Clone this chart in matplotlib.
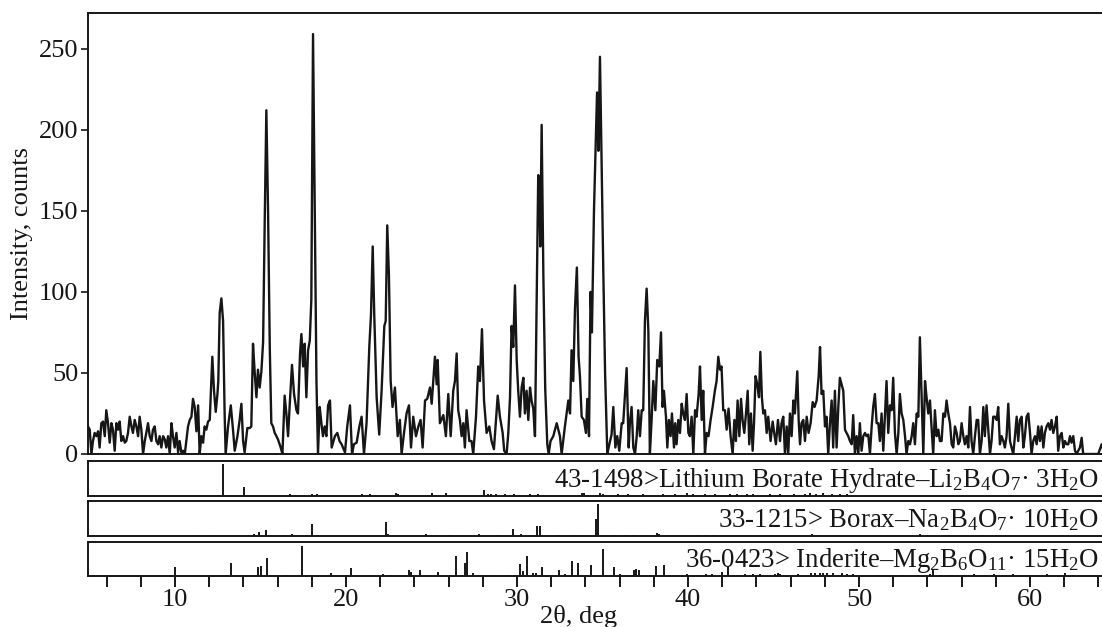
import matplotlib.pyplot as plt
from matplotlib.ticker import MultipleLocator, FixedLocator, NullFormatter

plt.rcParams["font.family"] = "Liberation Serif"
plt.rcParams["mathtext.fontset"] = "custom"
plt.rcParams["mathtext.rm"] = "Liberation Serif"
plt.rcParams["mathtext.it"] = "Liberation Serif:italic"

# measured pattern, 2theta (deg) and counts
two_theta = [
    4.91, 5.01, 5.11, 5.20, 5.30, 5.40, 5.50, 5.59, 5.69, 5.79,
    5.89, 5.98, 6.08, 6.18, 6.28, 6.37, 6.47, 6.57, 6.67, 6.76,
    6.86, 6.96, 7.06, 7.15, 7.25, 7.35, 7.45, 7.54, 7.64, 7.74,
    7.84, 7.93, 8.03, 8.13, 8.23, 8.32, 8.42, 8.52, 8.62, 8.71,
    8.81, 8.91, 9.01, 9.10, 9.20, 9.30, 9.40, 9.49, 9.59, 9.69,
    9.79, 9.88, 9.98, 10.08, 10.18, 10.27, 10.37, 10.47, 10.57, 10.66,
    10.76, 10.86, 10.96, 11.05, 11.15, 11.25, 11.35, 11.44, 11.54, 11.64,
    11.73, 11.83, 11.93, 12.03, 12.12, 12.18, 12.28, 12.38, 12.48, 12.53,
    12.61, 12.71, 12.81, 12.90, 12.96, 13.10, 13.26, 13.39, 13.49, 13.65,
    13.78, 13.88, 13.98, 14.07, 14.23, 14.37, 14.46, 14.56, 14.66, 14.76,
    14.85, 14.95, 15.05, 15.15, 15.24, 15.34, 15.44, 15.54, 15.63, 15.73,
    15.83, 15.93, 16.02, 16.18, 16.28, 16.41, 16.51, 16.61, 16.71, 16.84,
    16.96, 17.10, 17.19, 17.31, 17.39, 17.49, 17.58, 17.68, 17.78, 17.88,
    17.97, 18.07, 18.17, 18.27, 18.36, 18.46, 18.56, 18.65, 18.75, 18.85,
    18.95, 19.06, 19.16, 19.35, 19.49, 19.62, 19.74, 19.94, 20.07, 20.23,
    20.35, 20.46, 20.62, 20.78, 20.91, 21.05, 21.20, 21.36, 21.46, 21.56,
    21.65, 21.79, 21.94, 22.08, 22.24, 22.32, 22.41, 22.51, 22.61, 22.72,
    22.86, 23.02, 23.15, 23.25, 23.39, 23.54, 23.68, 23.80, 23.93, 24.09,
    24.23, 24.36, 24.48, 24.62, 24.75, 24.91, 25.01, 25.20, 25.30, 25.36,
    25.49, 25.69, 25.84, 25.98, 26.12, 26.27, 26.37, 26.47, 26.56, 26.66,
    26.76, 26.86, 26.95, 27.05, 27.21, 27.34, 27.44, 27.60, 27.73, 27.83,
    27.95, 28.07, 28.22, 28.38, 28.51, 28.65, 28.77, 28.87, 29.00, 29.16,
    29.25, 29.39, 29.49, 29.59, 29.68, 29.78, 29.88, 29.98, 30.07, 30.17,
    30.27, 30.37, 30.46, 30.56, 30.66, 30.76, 30.85, 30.95, 31.05, 31.15,
    31.24, 31.30, 31.36, 31.44, 31.54, 31.65, 31.77, 31.85, 31.96, 32.12,
    32.32, 32.51, 32.61, 32.80, 33.00, 33.10, 33.19, 33.29, 33.39, 33.50,
    33.60, 33.68, 33.78, 33.91, 34.03, 34.11, 34.21, 34.30, 34.38, 34.50,
    34.60, 34.68, 34.76, 34.85, 34.93, 35.05, 35.15, 35.28, 35.40, 35.53,
    35.63, 35.75, 35.86, 35.98, 36.12, 36.21, 36.41, 36.53, 36.60, 36.70,
    36.80, 36.90, 37.00, 37.09, 37.19, 37.29, 37.38, 37.48, 37.58, 37.68,
    37.77, 37.87, 37.97, 38.09, 38.20, 38.32, 38.42, 38.51, 38.59, 38.71,
    38.79, 38.88, 38.98, 39.06, 39.18, 39.25, 39.33, 39.43, 39.53, 39.63,
    39.72, 39.82, 39.92, 40.02, 40.11, 40.21, 40.31, 40.41, 40.50, 40.62,
    40.70, 40.80, 40.89, 40.99, 41.09, 41.20, 41.32, 41.44, 41.57, 41.67,
    41.77, 41.87, 41.96, 42.06, 42.16, 42.26, 42.37, 42.49, 42.61, 42.71,
    42.80, 42.90, 43.00, 43.10, 43.19, 43.29, 43.39, 43.49, 43.58, 43.68,
    43.78, 43.86, 43.95, 44.05, 44.15, 44.23, 44.32, 44.40, 44.50, 44.60,
    44.69, 44.83, 44.95, 45.04, 45.14, 45.26, 45.38, 45.47, 45.57, 45.67,
    45.77, 45.86, 45.96, 46.06, 46.16, 46.25, 46.39, 46.47, 46.55, 46.64,
    46.74, 46.84, 46.94, 47.05, 47.17, 47.29, 47.40, 47.52, 47.64, 47.72,
    47.81, 47.91, 48.01, 48.10, 48.20, 48.30, 48.40, 48.49, 48.59, 48.69,
    48.79, 48.88, 48.98, 49.08, 49.18, 49.27, 49.37, 49.47, 49.57, 49.66,
    49.76, 49.86, 49.96, 50.05, 50.15, 50.25, 50.35, 50.44, 50.54, 50.64,
    50.74, 50.83, 50.93, 51.03, 51.13, 51.22, 51.32, 51.42, 51.52, 51.61,
    51.71, 51.81, 51.91, 52.00, 52.10, 52.20, 52.30, 52.39, 52.49, 52.59,
    52.69, 52.78, 52.88, 52.98, 53.08, 53.17, 53.27, 53.37, 53.47, 53.56,
    53.66, 53.76, 53.86, 53.95, 54.05, 54.15, 54.25, 54.34, 54.44, 54.54,
    54.64, 54.73, 54.83, 54.93, 55.03, 55.12, 55.22, 55.32, 55.42, 55.51,
    55.61, 55.71, 55.81, 55.90, 56.00, 56.10, 56.19, 56.29, 56.39, 56.49,
    56.58, 56.68, 56.78, 56.88, 56.97, 57.07, 57.17, 57.27, 57.36, 57.46,
    57.56, 57.66, 57.75, 57.85, 57.95, 58.05, 58.14, 58.24, 58.34, 58.44,
    58.53, 58.63, 58.73, 58.83, 58.92, 59.02, 59.12, 59.22, 59.31, 59.41,
    59.51, 59.61, 59.70, 59.80, 59.90, 60.00, 60.09, 60.19, 60.29, 60.39,
    60.48, 60.58, 60.68, 60.78, 60.87, 60.97, 61.07, 61.17, 61.26, 61.36,
    61.46, 61.56, 61.65, 61.75, 61.85, 61.95, 62.04, 62.14, 62.24, 62.34,
    62.43, 62.53, 62.63, 62.73, 62.82, 62.92, 63.02, 63.11, 63.70, 63.99,
    64.09, 64.19, 64.30,
]
intensity = [
    17, 15, 0, 8, 13, 11, 14, 4, 19, 20,
    11, 27, 19, 7, 19, 15, 2, 19, 15, 20,
    8, 11, 7, 8, 13, 23, 17, 13, 21, 17,
    11, 23, 15, 0, 8, 13, 19, 11, 8, 15,
    17, 8, 6, 11, 4, 11, 9, 4, 11, 0,
    19, 11, 4, 13, 1, 8, 1, 2, 0, 8,
    17, 21, 23, 34, 29, 14, 30, 0, 11, 7,
    17, 15, 20, 21, 45, 60, 39, 26, 37, 45,
    87, 96, 82, 25, 0, 17, 30, 15, 2, 11,
    21, 31, 8, 1, 16, 16, 17, 68, 50, 35,
    52, 41, 51, 69, 140, 212, 150, 66, 19, 17,
    13, 11, 9, 4, 0, 36, 25, 11, 31, 55,
    37, 27, 25, 62, 74, 54, 68, 35, 64, 70,
    95, 259, 150, 45, 0, 29, 19, 11, 17, 11,
    30, 33, 4, 11, 13, 8, 6, 1, 17, 30,
    0, 6, 7, 17, 23, 0, 19, 66, 86, 128,
    86, 35, 12, 39, 79, 82, 141, 110, 45, 29,
    41, 11, 21, 0, 13, 25, 30, 4, 23, 11,
    17, 21, 4, 33, 34, 41, 31, 60, 43, 58,
    19, 24, 11, 37, 11, 39, 45, 62, 27, 21,
    11, 19, 4, 27, 8, 8, 0, 23, 54, 45,
    77, 33, 13, 17, 8, 3, 21, 36, 23, 13,
    2, 0, 13, 35, 79, 66, 104, 58, 39, 23,
    41, 47, 25, 39, 21, 41, 33, 28, 11, 95,
    172, 170, 128, 203, 110, 40, 6, 0, 8, 11,
    19, 11, 0, 17, 33, 25, 64, 45, 90, 115,
    60, 48, 23, 21, 13, 34, 11, 100, 75, 150,
    190, 223, 187, 245, 190, 110, 50, 0, 6, 12,
    29, 4, 11, 2, 19, 19, 53, 4, 19, 29,
    4, 0, 11, 27, 11, 27, 27, 82, 102, 76,
    0, 21, 45, 27, 58, 54, 75, 29, 39, 23,
    4, 21, 11, 25, 4, 19, 6, 21, 13, 31,
    25, 21, 37, 13, 11, 23, 0, 27, 23, 37,
    54, 21, 39, 0, 13, 11, 21, 29, 39, 45,
    60, 52, 54, 27, 27, 15, 28, 11, 0, 21,
    8, 33, 11, 34, 21, 13, 25, 39, 6, 25,
    2, 19, 48, 43, 35, 63, 35, 25, 27, 13,
    23, 8, 20, 13, 6, 21, 8, 19, 23, 0,
    17, 0, 25, 11, 33, 25, 51, 21, 6, 19,
    21, 8, 23, 13, 19, 32, 29, 33, 48, 66,
    37, 39, 17, 23, 0, 19, 33, 4, 39, 4,
    29, 47, 43, 39, 15, 13, 11, 8, 6, 24,
    0, 11, 0, 19, 2, 11, 13, 11, 12, 0,
    17, 29, 37, 19, 19, 8, 25, 2, 25, 45,
    13, 30, 27, 47, 13, 0, 13, 37, 25, 21,
    11, 0, 8, 6, 11, 19, 6, 25, 23, 72,
    35, 0, 45, 35, 25, 33, 15, 0, 27, 11,
    15, 8, 8, 25, 23, 33, 25, 19, 6, 4,
    17, 13, 6, 8, 19, 11, 6, 11, 4, 29,
    8, 0, 11, 21, 21, 0, 8, 29, 11, 30,
    15, 0, 8, 23, 23, 21, 29, 6, 11, 8,
    4, 11, 31, 8, 4, 0, 11, 23, 8, 21,
    23, 4, 11, 23, 25, 13, 0, 8, 11, 6,
    17, 8, 17, 4, 13, 17, 19, 15, 21, 13,
    17, 23, 2, 11, 13, 4, 8, 6, 6, 11,
    7, 11, 2, 0, 2, 4, 10, 0, 0, 0,
    3, 6, 2,
]

# reference card lines: position (deg) and relative height
li_pos = [12.81, 14.03, 16.71, 18.01, 18.32, 20.96, 21.38, 22.94, 23.04, 25.03,
          25.87, 28.07, 28.30, 28.50, 28.79, 29.28, 29.83, 30.74, 31.23, 33.80,
          33.90, 34.85, 35.05, 35.93, 36.51, 37.39, 38.56, 39.24, 39.92, 40.31,
          40.99, 41.58, 42.46, 42.85, 43.43, 43.82, 44.80, 45.40, 46.20, 46.84,
          47.13, 47.50, 47.90, 48.40, 48.90, 49.30]
li_h = [0.90, 0.26, 0.04, 0.04, 0.04, 0.04, 0.04, 0.08, 0.05, 0.06,
        0.06, 0.15, 0.05, 0.05, 0.05, 0.05, 0.04, 0.04, 0.04, 0.06,
        0.06, 0.06, 0.05, 0.04, 0.05, 0.04, 0.05, 0.04, 0.08, 0.04,
        0.05, 0.04, 0.04, 0.04, 0.04, 0.04, 0.04, 0.05, 0.04, 0.05,
        0.06, 0.05, 0.06, 0.05, 0.05, 0.04]

bx_pos = [11.11, 12.12, 14.60, 14.89, 15.34, 16.37, 16.84, 18.01, 22.36, 22.46,
          24.66, 25.28, 26.02, 26.55, 27.78, 28.85, 29.77, 30.25, 31.15, 31.34,
          32.46, 33.27, 33.47, 33.66, 34.60, 34.76, 35.05, 35.73, 36.32, 36.80,
          37.39, 38.17, 38.32, 38.85, 39.53, 40.12, 40.51, 41.00, 41.48, 42.07,
          42.65, 43.14, 43.63, 44.41, 44.89, 45.48, 45.97, 46.45, 47.23, 47.72,
          48.31, 48.89, 49.47, 50.06, 50.64, 51.23, 51.72, 52.30, 53.57, 53.96,
          55.13, 56.10, 57.27, 58.25, 59.03, 60.00, 61.17, 61.95, 63.12]
bx_h = [0.03, 0.03, 0.06, 0.10, 0.17, 0.03, 0.06, 0.34, 0.40, 0.04,
        0.05, 0.03, 0.03, 0.03, 0.04, 0.03, 0.18, 0.05, 0.29, 0.29,
        0.03, 0.03, 0.03, 0.03, 0.47, 0.91, 0.03, 0.03, 0.03, 0.03,
        0.03, 0.07, 0.04, 0.03, 0.03, 0.03, 0.03, 0.03, 0.03, 0.03,
        0.03, 0.03, 0.03, 0.03, 0.03, 0.03, 0.03, 0.03, 0.05, 0.03,
        0.03, 0.03, 0.03, 0.03, 0.03, 0.03, 0.03, 0.03, 0.05, 0.03,
        0.03, 0.03, 0.03, 0.03, 0.03, 0.03, 0.03, 0.03, 0.03]

ind_pos = [10.02, 13.29, 14.85, 15.01, 15.38, 16.57, 17.45, 19.10, 20.31, 21.64,
           22.16, 22.65, 23.66, 23.80, 24.31, 25.38, 26.45, 26.93, 27.10, 27.43,
           28.30, 29.47, 30.19, 30.34, 30.61, 30.93, 31.13, 31.47, 32.47, 32.83,
           33.23, 33.56, 34.34, 35.01, 35.66, 36.03, 36.82, 36.97, 37.15, 38.13,
           38.60, 39.92, 40.30, 40.50, 41.05, 41.40, 41.97, 42.32, 42.85, 43.33,
           43.82, 44.21, 44.40, 45.07, 45.28, 45.40, 46.45, 47.20, 47.45, 47.72,
           47.92, 48.11, 48.46, 48.99, 49.28, 49.67, 50.15, 50.45, 51.03, 51.23,
           51.81, 52.60, 53.50, 54.15, 54.35, 55.40, 56.70, 57.90, 59.00, 60.00,
           60.97, 62.05, 62.53, 63.50]
ind_h = [0.25, 0.37, 0.25, 0.30, 0.52, 0.03, 0.88, 0.10, 0.24, 0.04,
         0.06, 0.04, 0.18, 0.12, 0.16, 0.12, 0.59, 0.38, 0.70, 0.08,
         0.03, 0.03, 0.34, 0.15, 0.57, 0.08, 0.08, 0.25, 0.16, 0.05,
         0.44, 0.38, 0.31, 0.79, 0.25, 0.05, 0.18, 0.20, 0.18, 0.29,
         0.31, 0.05, 0.03, 0.03, 0.05, 0.05, 0.12, 0.30, 0.04, 0.05,
         0.05, 0.05, 0.04, 0.07, 0.08, 0.06, 0.05, 0.09, 0.08, 0.10,
         0.10, 0.10, 0.10, 0.10, 0.07, 0.05, 0.04, 0.04, 0.04, 0.04,
         0.04, 0.04, 0.04, 0.06, 0.16, 0.04, 0.05, 0.05, 0.05, 0.04,
         0.05, 0.10, 0.04, 0.04]

cards = [
    "43-1498>Lithium Borate Hydrate–Li$_2$B$_4$O$_7$· 3H$_2$O",
    "33-1215> Borax–Na$_2$B$_4$O$_7$· 10H$_2$O",
    "36-0423> Inderite–Mg$_2$B$_6$O$_{11}$· 15H$_2$O",
]
x_labels = [10, 20, 30, 40, 50, 60]

ink = "#161616"
W, H = 1102, 627
xlo, xhi = 4.91, 70.0   # axes run past the right edge of the picture


def frame(top, bottom, left=88, right=1201):
    return [left / W, 1 - bottom / H, (right - left) / W, (bottom - top) / H]


fig = plt.figure(figsize=(W / 100, H / 100), dpi=100)

ax = fig.add_axes(frame(13, 454))
ax.plot(two_theta, intensity, color=ink, lw=1.7)
ax.set_xlim(xlo, xhi)
ax.set_ylim(0, 272)
ax.set_xticks([])
ax.set_yticks([0, 50, 100, 150, 200, 250])
ax.tick_params(axis="y", direction="out", length=5, width=1.2, pad=2,
               labelsize=19, colors=ink)
for s in ax.spines.values():
    s.set_linewidth(1.4)
    s.set_color(ink)
ax.spines["right"].set_visible(False)

rows = [(li_pos, li_h, 461, 495.5), (bx_pos, bx_h, 501, 535.7), (ind_pos, ind_h, 541.5, 576)]
for i, (pos, hts, top, bottom) in enumerate(rows):
    p = fig.add_axes(frame(top, bottom))
    p.vlines(pos, 0, hts, color=ink, lw=1.4)
    p.set_xlim(xlo, xhi)
    p.set_ylim(0, 1)
    p.set_yticks([])
    for s in p.spines.values():
        s.set_linewidth(1.4)
        s.set_color(ink)
    p.spines["right"].set_visible(False)
    p.text(64.02, 0.26, cards[i], transform=p.get_xaxis_transform(),
           ha="right", va="baseline", fontsize=19.3, color=ink)
    if i < 2:
        p.set_xticks([])
    else:
        p.xaxis.set_major_locator(FixedLocator(x_labels))
        p.xaxis.set_minor_locator(MultipleLocator(2))
        p.xaxis.set_minor_formatter(NullFormatter())
        p.tick_params(axis="x", which="both", direction="out", length=8,
                      width=1.4, pad=1, labelsize=19, colors=ink)

fig.text(22 / W, 1 - 233 / H, "Intensity, counts", rotation=90,
         ha="center", va="center", fontsize=19, color=ink)
fig.text(579 / W, 1 - 616 / H, "2θ, deg", ha="center", va="center",
         fontsize=19, color=ink)

fig.savefig("out.png", dpi=100, facecolor="white")
